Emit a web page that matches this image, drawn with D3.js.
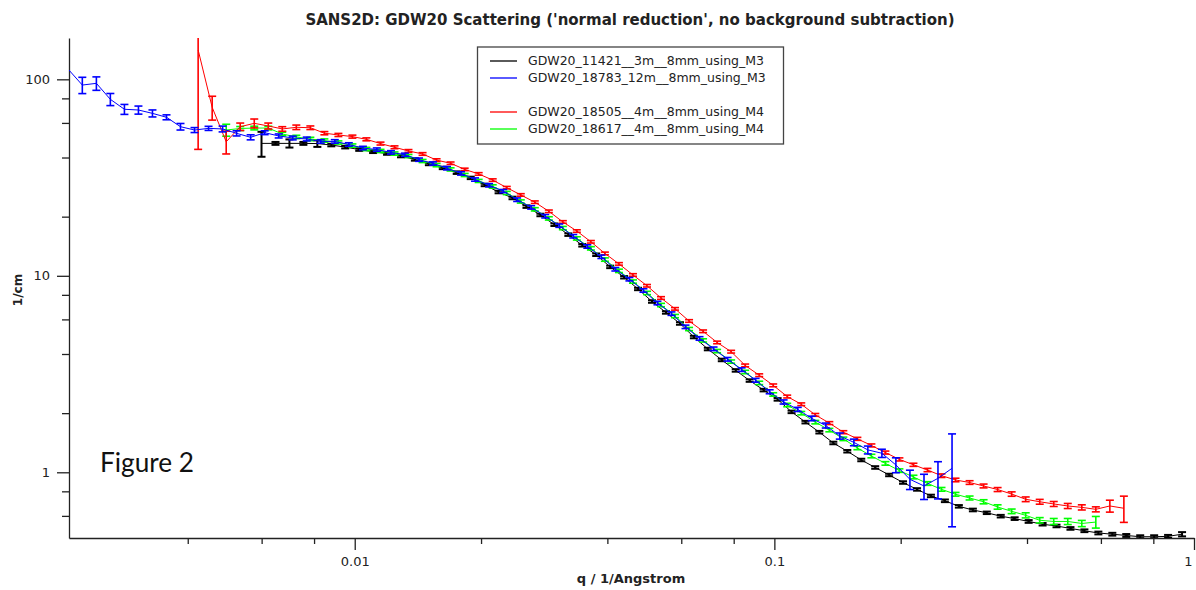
<!DOCTYPE html>
<html>
<head>
<meta charset="utf-8">
<script src="https://cdn.jsdelivr.net/npm/d3@7"></script>
<style>
body { margin: 0; background: #fff; }
svg { display: block; font-family: "DejaVu Sans", sans-serif; }
.axis path, .axis line { stroke: #222; stroke-width: 1.3; }
.axis text { font-size: 13px; fill: #222; font-family: "DejaVu Sans", sans-serif; }
</style>
</head>
<body>
<svg id="chart" width="1196" height="590"></svg>
<script>
// GDW20_11421__3m (black)
var qBlack = [0.005996, 0.006474, 0.006989, 0.007545, 0.008146, 0.008794, 0.009491, 0.01025, 0.01106, 0.01194,
	0.01289, 0.01391, 0.01502, 0.01621, 0.01750, 0.01890, 0.02040, 0.02202, 0.02377, 0.02566,
	0.02770, 0.02991, 0.03229, 0.03485, 0.03762, 0.04062, 0.04385, 0.04733, 0.05110, 0.05516,
	0.05957, 0.06430, 0.06941, 0.07494, 0.08089, 0.08733, 0.09428, 0.1018, 0.1099, 0.1186,
	0.1280, 0.1382, 0.1492, 0.1611, 0.1739, 0.1877, 0.2026, 0.2188, 0.2361, 0.2549,
	0.2752, 0.2972, 0.3208, 0.3463, 0.3738, 0.4036, 0.4357, 0.4703, 0.5077, 0.5481,
	0.5917, 0.6388, 0.6895, 0.7444, 0.8036, 0.8675, 0.9366];
var iBlack = [47.2, 47.2, 47.2, 47.2, 47.1, 46.3, 45.2, 43.9, 42.8, 41.9,
	40.7, 39.1, 37.1, 35.4, 33.5, 31.5, 29.0, 26.7, 24.9, 22.5,
	20.4, 18.2, 16.2, 14.3, 12.8, 11.1, 9.83, 8.57, 7.40, 6.51,
	5.72, 4.88, 4.24, 3.73, 3.30, 2.93, 2.62, 2.35, 2.03, 1.80,
	1.60, 1.41, 1.28, 1.155, 1.058, 0.969, 0.887, 0.818, 0.758, 0.716,
	0.671, 0.643, 0.622, 0.598, 0.581, 0.562, 0.544, 0.533, 0.518, 0.504,
	0.491, 0.484, 0.477, 0.470, 0.470, 0.472, 0.484];
var eBlack = [6.85, 0.8, 2.25, 0.8, 1.8, 0.7, 0.7, 0.65, 0.65, 0.6,
	0.6, 0.55, 0.55, 0.5, 0.5, 0.45, 0.42, 0.4, 0.37, 0.33,
	0.3, 0.27, 0.24, 0.21, 0.19, 0.16, 0.14, 0.12, 0.11, 0.095,
	0.085, 0.072, 0.063, 0.055, 0.049, 0.043, 0.039, 0.035, 0.03, 0.027,
	0.024, 0.021, 0.019, 0.017, 0.016, 0.014, 0.013, 0.012, 0.011, 0.011,
	0.01, 0.01, 0.009, 0.009, 0.009, 0.009, 0.008, 0.008, 0.008, 0.008,
	0.008, 0.008, 0.008, 0.008, 0.008, 0.008, 0.012];

// GDW20_18783_12m (blue)
var qBlue = [0.002077, 0.002243, 0.002423, 0.002616, 0.002826, 0.003052, 0.003296, 0.003560, 0.003844, 0.004152,
	0.004484, 0.004843, 0.005230, 0.005649, 0.006101, 0.006589, 0.007116, 0.007685, 0.008300, 0.008964,
	0.009681, 0.01046, 0.01129, 0.01220, 0.01317, 0.01423, 0.01536, 0.01659, 0.01792, 0.01935,
	0.02090, 0.02258, 0.02438, 0.02633, 0.02844, 0.03072, 0.03317, 0.03583, 0.03870, 0.04179,
	0.04514, 0.04875, 0.05265, 0.05686, 0.06141, 0.06632, 0.07163, 0.07736, 0.08355, 0.09023,
	0.09745, 0.1052, 0.1137, 0.1228, 0.1326, 0.1432, 0.1547, 0.1670, 0.1804, 0.1948,
	0.2104, 0.2273, 0.2454, 0.2651];
var iBlue = [112.4, 93.5, 95.4, 79.1, 70.4, 69.8, 67.1, 64.1, 57.4, 55.2,
	56.3, 55.9, 53.1, 50.7, 53.5, 51.5, 50.3, 49.7, 48.3, 48.3,
	46.6, 44.7, 43.9, 42.5, 41.3, 39.0, 37.3, 35.3, 33.2, 30.9,
	28.9, 27.0, 24.4, 22.3, 20.1, 18.0, 15.9, 14.1, 12.5, 10.8,
	9.61, 8.42, 7.27, 6.42, 5.50, 4.80, 4.25, 3.76, 3.33, 2.94,
	2.57, 2.28, 2.09, 1.88, 1.73, 1.53, 1.42, 1.30, 1.25, 1.09,
	0.921, 0.852, 0.932, 1.048];
var eBlue = [0, 8.9, 7.5, 5.6, 4.1, 3.3, 2.75, 1.85, 2.2, 1.6,
	1.35, 1.9, 1.6, 1.5, 1.2, 1.2, 1.1, 1.1, 1.0, 1.0,
	0.95, 0.9, 0.85, 0.85, 0.8, 0.75, 0.7, 0.7, 0.65, 0.6,
	0.55, 0.5, 0.5, 0.45, 0.4, 0.35, 0.32, 0.28, 0.25, 0.22,
	0.19, 0.17, 0.15, 0.13, 0.11, 0.1, 0.09, 0.08, 0.07, 0.065,
	0.06, 0.055, 0.05, 0.05, 0.05, 0.055, 0.055, 0.06, 0.06, 0.095,
	0.104, 0.125, 0.2, 0.52];

// GDW20_18505__4m (red)
var qRed = [0.004235, 0.004574, 0.004940, 0.005335, 0.005762, 0.006223, 0.006720, 0.007258, 0.007839, 0.008466,
	0.009143, 0.009874, 0.01066, 0.01152, 0.01244, 0.01343, 0.01451, 0.01567, 0.01692, 0.01828,
	0.01974, 0.02132, 0.02303, 0.02487, 0.02686, 0.02901, 0.03133, 0.03383, 0.03654, 0.03946,
	0.04262, 0.04603, 0.04971, 0.05369, 0.05798, 0.06262, 0.06763, 0.07304, 0.07888, 0.08519,
	0.09201, 0.09937, 0.1073, 0.1159, 0.1252, 0.1352, 0.1460, 0.1577, 0.1703, 0.1839,
	0.1986, 0.2145, 0.2317, 0.2502, 0.2702, 0.2919, 0.3152, 0.3404, 0.3677, 0.3971,
	0.4289, 0.4632, 0.5002, 0.5403, 0.5835, 0.6302, 0.6806];
var iRed = [141, 72, 48.1, 57.4, 59.7, 57.9, 55.9, 57.0, 56.7, 53.2,
	52.1, 51.1, 49.5, 47.1, 45.1, 43.2, 41.7, 38.8, 37.4, 34.8,
	33.0, 30.7, 28.1, 25.8, 23.7, 21.3, 18.8, 16.9, 14.9, 13.0,
	11.5, 10.1, 8.90, 7.71, 6.79, 5.89, 5.22, 4.58, 4.11, 3.50,
	3.12, 2.77, 2.43, 2.22, 1.96, 1.78, 1.60, 1.48, 1.37, 1.26,
	1.163, 1.092, 1.027, 0.961, 0.914, 0.887, 0.852, 0.817, 0.775, 0.729,
	0.708, 0.690, 0.674, 0.663, 0.648, 0.674, 0.656];
var eRed = [97, 10, 6.4, 2.5, 3.1, 2.0, 1.5, 1.5, 1.2, 1.0,
	0.95, 0.9, 0.85, 0.8, 0.75, 0.7, 0.65, 0.6, 0.55, 0.5,
	0.5, 0.45, 0.4, 0.38, 0.35, 0.32, 0.28, 0.25, 0.22, 0.2,
	0.17, 0.15, 0.13, 0.12, 0.1, 0.09, 0.08, 0.07, 0.065, 0.055,
	0.05, 0.045, 0.04, 0.035, 0.032, 0.03, 0.028, 0.026, 0.024, 0.022,
	0.021, 0.02, 0.02, 0.02, 0.019, 0.019, 0.019, 0.019, 0.02, 0.02,
	0.02, 0.02, 0.02, 0.02, 0.019, 0.047, 0.10];

// GDW20_18617__4m (green)
var qGreen = [0.004940, 0.005335, 0.005762, 0.006223, 0.006720, 0.007258, 0.007839, 0.008466, 0.009143, 0.009874,
	0.01066, 0.01152, 0.01244, 0.01343, 0.01451, 0.01567, 0.01692, 0.01828, 0.01974, 0.02132,
	0.02303, 0.02487, 0.02686, 0.02901, 0.03133, 0.03383, 0.03654, 0.03946, 0.04262, 0.04603,
	0.04971, 0.05369, 0.05798, 0.06262, 0.06763, 0.07304, 0.07888, 0.08519, 0.09201, 0.09937,
	0.1073, 0.1159, 0.1252, 0.1352, 0.1460, 0.1577, 0.1703, 0.1839, 0.1986, 0.2145,
	0.2317, 0.2502, 0.2702, 0.2919, 0.3152, 0.3404, 0.3677, 0.3971, 0.4289, 0.4632,
	0.5002, 0.5403, 0.5835];
var iGreen = [55.2, 56.2, 56.5, 56.5, 52.7, 50.9, 49.7, 48.8, 47.7, 46.0,
	44.2, 43.2, 41.9, 40.7, 38.4, 36.6, 34.8, 32.6, 30.4, 28.5,
	26.4, 23.9, 21.8, 19.6, 17.5, 15.5, 13.8, 12.1, 10.6, 9.35,
	8.18, 7.10, 6.24, 5.36, 4.69, 4.14, 3.66, 3.24, 2.85, 2.49,
	2.20, 2.00, 1.80, 1.64, 1.48, 1.33, 1.21, 1.11, 1.02, 0.946,
	0.877, 0.819, 0.773, 0.740, 0.708, 0.666, 0.633, 0.604, 0.570, 0.562,
	0.562, 0.549, 0.558];
var eGreen = [3.85, 1.3, 1.2, 1.2, 1.1, 1.0, 1.0, 0.95, 0.9, 0.9,
	0.85, 0.8, 0.8, 0.75, 0.7, 0.7, 0.65, 0.6, 0.55, 0.55,
	0.5, 0.45, 0.42, 0.38, 0.34, 0.3, 0.27, 0.24, 0.21, 0.18,
	0.16, 0.14, 0.12, 0.1, 0.09, 0.08, 0.07, 0.065, 0.057, 0.05,
	0.045, 0.04, 0.036, 0.033, 0.03, 0.027, 0.025, 0.023, 0.021, 0.02,
	0.019, 0.018, 0.017, 0.017, 0.017, 0.017, 0.017, 0.018, 0.018, 0.02,
	0.02, 0.02, 0.038];

var legendNames = ["GDW20_11421__3m__8mm_using_M3", "GDW20_18783_12m__8mm_using_M3", "",
		"GDW20_18505__4m__8mm_using_M4", "GDW20_18617__4m__8mm_using_M4"],
		legendColours = ["#000000", "#0000ff", null, "#ff0000", "#00ff00"];

var xMajor = [0.01, 0.1, 1],
		xMinor = [0.004, 0.006, 0.008, 0.02, 0.04, 0.06, 0.08, 0.2, 0.4, 0.6, 0.8],
		yMajor = [1, 10, 100],
		yMinor = [0.6, 0.8, 2, 4, 6, 8, 20, 40, 60, 80];

var svg = d3.select("#chart");
var plotLeft = 69, plotRight = 1194, plotTop = 38, plotBottom = 538;

var x = d3.scaleLog().domain([0.002085, 1.0]).range([plotLeft, plotRight]),
		y = d3.scaleLog().domain([0.463, 162.3]).range([plotBottom, plotTop]);

svg.append("defs").append("clipPath")
		.attr("id", "plot-clip")
	.append("rect")
		.attr("x", plotLeft)
		.attr("y", plotTop)
		.attr("width", plotRight - plotLeft)
		.attr("height", plotBottom - plotTop);

// title
svg.append("text")
	.attr("x", 630)
	.attr("y", 25)
	.attr("text-anchor", "middle")
	.attr("font-size", "15px")
	.attr("font-weight", "bold")
	.attr("fill", "#222")
	.text("SANS2D: GDW20 Scattering ('normal reduction', no background subtraction)");

// axes: minor ticks first, then major ticks with labels
svg.append("g")
	.attr("class", "axis")
	.attr("transform", "translate(0," + plotBottom + ")")
	.call(d3.axisBottom(x).tickValues(xMinor).tickSize(6).tickSizeOuter(0).tickFormat(""))
	.select(".domain").remove();
var xAxisG = svg.append("g")
	.attr("class", "axis")
	.attr("transform", "translate(0," + plotBottom + ")")
	.call(d3.axisBottom(x).tickValues(xMajor).tickSize(12).tickSizeOuter(0).tickPadding(7)
		.tickFormat(function(d) { return String(d); }));
// the "1" sits on the right edge, keep it inside the page
xAxisG.selectAll(".tick text")
	.filter(function(d) { return d === 1; })
	.attr("text-anchor", "end")
	.attr("dx", "-2px");

svg.append("g")
	.attr("class", "axis")
	.attr("transform", "translate(" + plotLeft + ",0)")
	.call(d3.axisLeft(y).tickValues(yMinor).tickSize(7).tickSizeOuter(0).tickFormat(""))
	.select(".domain").remove();
svg.append("g")
	.attr("class", "axis")
	.attr("transform", "translate(" + plotLeft + ",0)")
	.call(d3.axisLeft(y).tickValues(yMajor).tickSize(12).tickSizeOuter(0).tickPadding(7)
		.tickFormat(function(d) { return String(d); }));

svg.append("text")
	.attr("x", 631)
	.attr("y", 583)
	.attr("text-anchor", "middle")
	.attr("font-size", "13px")
	.attr("font-weight", "bold")
	.attr("fill", "#222")
	.text("q / 1/Angstrom");

svg.append("text")
	.attr("transform", "translate(22,290) rotate(-90)")
	.attr("text-anchor", "middle")
	.attr("font-size", "12px")
	.attr("font-weight", "bold")
	.attr("fill", "#222")
	.text("1/cm");

var plot = svg.append("g").attr("clip-path", "url(#plot-clip)");

var line = d3.line()
		.x(function(d) { return x(d.q); })
		.y(function(d) { return y(d.v); });

function drawSeries(qs, vals, errs, colour, barWidth) {
	var pts = qs.map(function(q, i) {
		return { q: q, v: vals[i], e: errs[i] };
	});
	var g = plot.append("g");

	g.append("path")
		.datum(pts)
		.attr("fill", "none")
		.attr("stroke", colour)
		.attr("stroke-width", 1)
		.attr("d", line);

	var bars = g.selectAll(".err")
		.data(pts.filter(function(d) { return d.e > 0; }))
		.enter().append("g")
			.attr("class", "err")
			.attr("stroke", colour)
			.attr("stroke-width", barWidth);

	bars.append("line")
		.attr("x1", function(d) { return x(d.q); })
		.attr("x2", function(d) { return x(d.q); })
		.attr("y1", function(d) { return y(d.v + d.e); })
		.attr("y2", function(d) { return y(Math.max(d.v - d.e, 0.01)); });
	bars.append("line")
		.attr("x1", function(d) { return x(d.q) - 4; })
		.attr("x2", function(d) { return x(d.q) + 4; })
		.attr("y1", function(d) { return y(d.v + d.e); })
		.attr("y2", function(d) { return y(d.v + d.e); });
	bars.append("line")
		.attr("x1", function(d) { return x(d.q) - 4; })
		.attr("x2", function(d) { return x(d.q) + 4; })
		.attr("y1", function(d) { return y(Math.max(d.v - d.e, 0.01)); })
		.attr("y2", function(d) { return y(Math.max(d.v - d.e, 0.01)); });
}

drawSeries(qBlack, iBlack, eBlack, "#000000", 2);
drawSeries(qGreen, iGreen, eGreen, "#00ff00", 1.6);
drawSeries(qRed, iRed, eRed, "#ff0000", 1.6);
drawSeries(qBlue, iBlue, eBlue, "#0000ff", 1.6);

// legend
var legend = svg.append("g");
legend.append("rect")
	.attr("x", 477.5)
	.attr("y", 47)
	.attr("width", 306)
	.attr("height", 97)
	.attr("fill", "#fff")
	.attr("stroke", "#444")
	.attr("stroke-width", 1.3);

legendNames.forEach(function(name, i) {
	if(!name) { return; }
	var rowY = 61 + i * 17;
	legend.append("line")
		.attr("x1", 490)
		.attr("x2", 517)
		.attr("y1", rowY)
		.attr("y2", rowY)
		.attr("stroke", legendColours[i])
		.attr("stroke-width", 1.3);
	legend.append("text")
		.attr("x", 528)
		.attr("y", rowY)
		.attr("dy", "0.35em")
		.attr("font-size", "12.5px")
		.attr("fill", "#222")
		.text(name);
});

svg.append("text")
	.attr("x", 100)
	.attr("y", 472)
	.attr("font-family", "Lato, 'Open Sans', sans-serif")
	.attr("font-size", "26px")
	.attr("textLength", 94)
	.attr("lengthAdjust", "spacingAndGlyphs")
	.attr("fill", "#111")
	.text("Figure 2");
</script>
</body>
</html>
